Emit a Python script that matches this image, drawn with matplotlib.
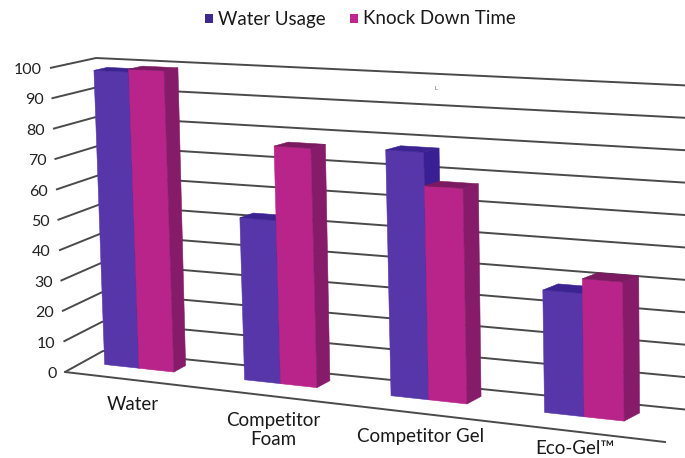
"""3D clustered column chart: water usage vs knock down time (perspective look)."""
import matplotlib

matplotlib.use("Agg")
import matplotlib.pyplot as plt
from matplotlib.patches import Polygon, Rectangle

plt.rcParams["font.family"] = ["Lato", "DejaVu Sans"]

categories = ["Water", "Competitor\nFoam", "Competitor Gel", "Eco-Gel™"]
series = ["Water Usage", "Knock Down Time"]
water_usage = [98, 52.5, 77.5, 37.5]
knock_down = [99, 76.5, 67, 42]
y_ticks = [0, 10, 20, 30, 40, 50, 60, 70, 80, 90, 100]

# colours: front / side / top
BLUE = ("#5636a9", "#3a1e93", "#3b2392")
PINK = ("#b8248a", "#861c69", "#7b1a60")
GRID = "#4a4a4a"

# plot box in pixel space, keyed by (right?, back?, top?)
BOX = {
    (0, 0, 0): (65, 372), (0, 0, 1): (50, 68),
    (0, 1, 0): (103, 351), (0, 1, 1): (96, 58),
    (1, 0, 0): (665, 442), (1, 0, 1): (660, 99),
    (1, 1, 0): (720, 413), (1, 1, 1): (720, 87),
}
C_MIN, C_MAX = 0.09, 4.16  # category axis limits
V_MAX = 100
WARP = 1.1                  # foreshortening along the category axis
D0, D1 = 0.47, 0.76         # bar depth inside the floor


def proj(c, d, v):
    s = (c - C_MIN) / (C_MAX - C_MIN)
    s = s / (s + WARP * (1 - s))
    t = v / V_MAX
    x = y = 0.0
    for (i, j, k), (px, py) in BOX.items():
        w = (s if i else 1 - s) * (d if j else 1 - d) * (t if k else 1 - t)
        x += w * px
        y += w * py
    return x, y


def face(ax, pts, color):
    ax.add_patch(Polygon([proj(*p) for p in pts], closed=True, fc=color,
                         ec=color, lw=0.4, zorder=3))


def bar(ax, c0, c1, v, cols):
    front, side, top = cols
    face(ax, [(c0, D0, 0), (c1, D0, 0), (c1, D0, v), (c0, D0, v)], front)
    face(ax, [(c1, D0, 0), (c1, D1, 0), (c1, D1, v), (c1, D0, v)], side)
    face(ax, [(c0, D0, v), (c1, D0, v), (c1, D1, v), (c0, D1, v)], top)


fig = plt.figure(figsize=(6.85, 4.58), dpi=100)
ax = fig.add_axes([0, 0, 1, 1])
ax.set_xlim(0, 685)
ax.set_ylim(458, 0)
ax.axis("off")

# gridlines: side wall + back wall
for v in y_ticks:
    xs, ys = zip(proj(C_MIN, 0, v), proj(C_MIN, 1, v), proj(C_MAX, 1, v))
    ax.plot(xs, ys, color=GRID, lw=1.4, zorder=1, solid_capstyle="butt")
    x, y = proj(C_MIN, 0, v)
    ax.text(x - 8, y + 2, str(v), ha="right", va="center", fontsize=11.5,
            color="#222222")

# floor front edge (category axis)
xs, ys = zip(proj(C_MIN, 0, 0), proj(C_MAX, 0, 0))
ax.plot(xs, ys, color=GRID, lw=1.4, zorder=1)

for i, (a, b) in enumerate(zip(water_usage, knock_down)):
    bar(ax, i + 0.25, i + 0.5, a, BLUE)
    bar(ax, i + 0.5, i + 0.75, b, PINK)
    x, y = proj(i + 0.5, 0.3, 0)
    ax.text(x, min(y + 24, 440), categories[i], ha="center", va="top",
            fontsize=13.5, color="#1a1a1a", linespacing=1.2)

# legend
for xsq, col, name in [(205, "#3d2a8c", series[0]), (350, "#c0268e", series[1])]:
    ax.add_patch(Rectangle((xsq, 14), 8, 9, fc=col, ec="none"))
    ax.text(xsq + 13, 19, name, ha="left", va="center", fontsize=13.5,
            color="#1a1a1a")

ax.text(436, 89, "L", fontsize=4, color="#555555", ha="center", va="center")

fig.savefig("out.png", dpi=100)
